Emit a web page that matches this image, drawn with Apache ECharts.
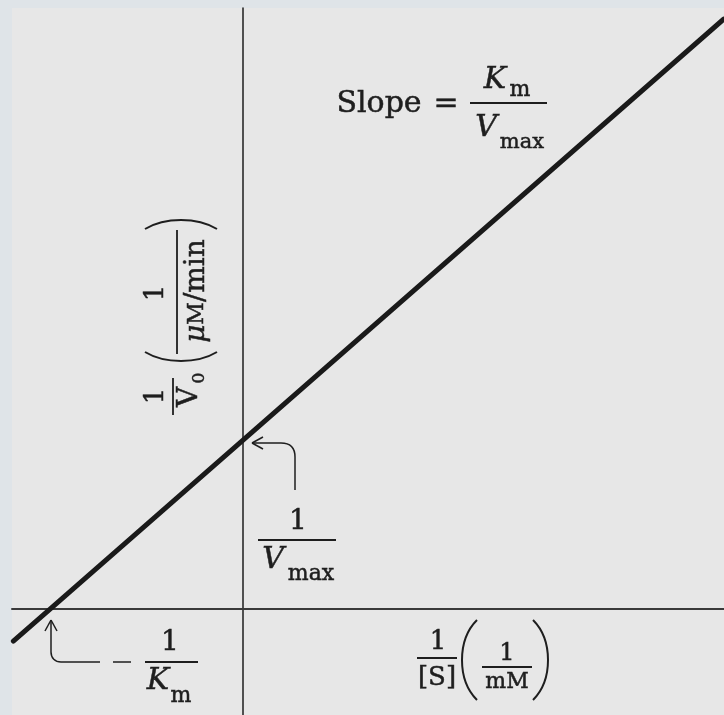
<!DOCTYPE html>
<html>
<head>
<meta charset="utf-8">
<script src="https://cdn.jsdelivr.net/npm/echarts@6/dist/echarts.min.js"></script>
<style>
  html, body { margin: 0; padding: 0; background: #dfe4e8; }
  #chart { width: 724px; height: 715px; }
</style>
</head>
<body>
<div id="chart"></div>
<script>
// Lineweaver-Burk plot: 1/V0 = (Km/Vmax)(1/[S]) + 1/Vmax
// units: -1/Km = -1, 1/Vmax = 1
const invS = [-1.19, -1, 0, 2.49];
const invV = [-0.19, 0, 1, 3.49];
const xRange = [-1.197, 2.492];
const yRange = [-0.627, 3.556];

const FONT = 'DejaVu Serif';
const INK = '#1e1e1e';

function txt (x, y, s, size, italic) {
  return {
    type: 'text', x: x, y: y, silent: true,
    style: {
      text: s, fontFamily: FONT, fontSize: size,
      fontStyle: italic ? 'italic' : 'normal',
      fill: INK, stroke: INK, lineWidth: 0.5,
      align: 'center', verticalAlign: 'middle'
    }
  };
}
function bar (x1, y1, x2, y2, w) {
  return {
    type: 'line', silent: true,
    shape: { x1: x1, y1: y1, x2: x2, y2: y2 },
    style: { stroke: INK, lineWidth: w || 1.8 }
  };
}
function curve (x1, y1, cx1, cy1, cx2, cy2, x2, y2, w) {
  return {
    type: 'bezierCurve', silent: true,
    shape: { x1: x1, y1: y1, cpx1: cx1, cpy1: cy1, cpx2: cx2, cpy2: cy2, x2: x2, y2: y2 },
    style: { stroke: INK, lineWidth: w || 2, fill: null }
  };
}

const chart = echarts.init(document.getElementById('chart'));

const graphics = [
  // Slope = Km / Vmax
  txt(379, 104, 'Slope', 30),
  txt(446, 104, '=', 30),
  bar(470, 103, 547, 103),
  txt(495, 80, 'K', 30, true),
  txt(520, 90, 'm', 22),
  txt(486, 128, 'V', 30, true),
  txt(522, 143, 'max', 21),

  // arrow to y-intercept
  bar(295, 490, 295, 457, 1.5),
  curve(295, 457, 295, 449, 291, 443, 281, 443, 1.5),
  bar(281, 443, 252, 443, 1.5),
  bar(252, 443, 263, 437, 1.5),
  bar(252, 443, 263, 449, 1.5),
  // 1 / Vmax
  txt(298, 522, '1', 28),
  bar(258, 540, 336, 540),
  txt(273, 560, 'V', 30, true),
  txt(311, 574, 'max', 22),

  // arrow to x-intercept
  bar(100, 662, 61, 662, 1.5),
  curve(61, 662, 55, 662, 51, 658, 51, 652, 1.5),
  bar(51, 652, 51, 620, 1.5),
  bar(51, 620, 45, 631, 1.5),
  bar(51, 620, 57, 631, 1.5),
  // - 1 / Km
  bar(113, 662, 131, 662, 1.5),
  txt(170, 643, '1', 28),
  bar(145, 662, 198, 662),
  txt(158, 681, 'K', 30, true),
  txt(181, 696, 'm', 22),

  // x label: 1/[S] (1/mM)
  txt(438, 642, '1', 26),
  bar(417, 658, 457, 658),
  txt(437, 678, '[S]', 26),
  curve(477, 620, 457, 640, 457, 680, 477, 700, 2),
  txt(507, 654, '1', 24),
  bar(482, 667, 532, 667),
  txt(507, 682, 'mM', 22),
  curve(533, 620, 553, 640, 553, 680, 533, 700, 2),

  // y label: 1/V0 (1/(uM/min)), rotated
  {
    type: 'group', x: 175, y: 420, rotation: Math.PI / 2, silent: true,
    children: [
      txt(24, -19, '1', 26),
      bar(5, -2, 42, -2),
      txt(23, 15, 'V', 28),
      txt(42, 25, '0', 17),
      curve(68, -30, 56, -10, 56, 22, 68, 42, 2),
      txt(127, -19, '1', 26),
      bar(66, 2, 190, 2),
      {
        type: 'text', x: 129, y: 22, silent: true,
        style: {
          text: '{it|μ}{sc|M}/min',
          fontFamily: FONT, fontSize: 28, fill: INK, stroke: INK, lineWidth: 0.5,
          align: 'center', verticalAlign: 'middle',
          rich: {
            it: { fontFamily: FONT, fontSize: 28, fontStyle: 'italic', fill: INK },
            sc: { fontFamily: FONT, fontSize: 22, fill: INK }
          }
        }
      },
      curve(191, -30, 203, -10, 203, 22, 191, 42, 2)
    ]
  }
];

chart.setOption({
  backgroundColor: '#dfe4e8',
  animation: false,
  grid: {
    left: 12, right: 0, top: 8, bottom: 0,
    show: true, backgroundColor: '#e7e7e7', borderWidth: 0
  },
  xAxis: {
    type: 'value', min: xRange[0], max: xRange[1],
    axisLine: { onZero: true, lineStyle: { color: '#3a3a3a', width: 2 } },
    axisTick: { show: false }, axisLabel: { show: false }, splitLine: { show: false }
  },
  yAxis: {
    type: 'value', min: yRange[0], max: yRange[1],
    axisLine: { onZero: true, lineStyle: { color: '#1e1e1e', width: 1.5 } },
    axisTick: { show: false }, axisLabel: { show: false }, splitLine: { show: false }
  },
  series: [{
    type: 'line',
    data: invS.map((x, i) => [x, invV[i]]),
    symbol: 'none',
    lineStyle: { color: '#1a1a1a', width: 5, cap: 'round' },
    silent: true
  }],
  graphic: graphics
});
</script>
</body>
</html>
